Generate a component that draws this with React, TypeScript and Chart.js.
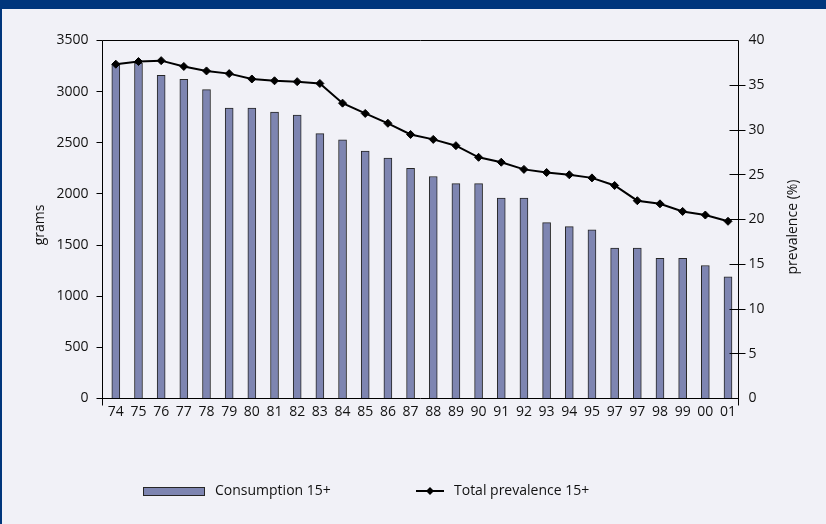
import { useEffect, useRef } from "react";
import { Chart, registerables } from "chart.js";

Chart.register(...registerables);

// Years on the category axis (two-digit labels, as printed)
const years = [
  "74", "75", "76", "77", "78", "79", "80", "81", "82", "83",
  "84", "85", "86", "87", "88", "89", "90", "91", "92", "93",
  "94", "95", "97", "97", "98", "99", "00", "01",
];

// Tobacco consumption per adult aged 15+, grams
const consumption = [
  3270, 3280, 3160, 3120, 3020, 2840, 2840, 2800, 2770, 2590,
  2530, 2420, 2350, 2250, 2170, 2100, 2100, 1960, 1960, 1720,
  1680, 1650, 1470, 1470, 1370, 1370, 1300, 1190,
];

// Total smoking prevalence among adults aged 15+, %
const prevalence = [
  37.35, 37.65, 37.75, 37.1, 36.6, 36.3, 35.7, 35.5, 35.4, 35.2,
  33.0, 31.85, 30.75, 29.5, 28.95, 28.25, 26.95, 26.4, 25.6, 25.25,
  25.0, 24.65, 23.8, 22.1, 21.75, 20.9, 20.5, 19.8,
];

const gramTicks = [0, 500, 1000, 1500, 2000, 2500, 3000, 3500];
const prevalenceTicks = [0, 5, 10, 15, 20, 25, 30, 35, 40];

const FONT_FAMILY = "'Open Sans', 'DejaVu Sans', sans-serif";
const FONT_SIZE = 14;
const TEXT_COLOR = "#111111";
const BAR_FILL = "#7e85b1";
const BAR_EDGE = "#262626";
const PANEL_BG = "#f1f1f7";
const FRAME_BLUE = "#00367c";

const crisp = (v: number) => Math.round(v - 0.5) + 0.5;

// Frame, axis lines, tick marks, axis titles and the legend row
const framePlugin = {
  id: "frame",
  afterDatasetsDraw(chart: any) {
    const { ctx, chartArea, scales } = chart;
    const { left, right, top, bottom } = chartArea;
    const y = scales.y;
    const y1 = scales.y1;
    ctx.save();
    ctx.strokeStyle = "#000";
    ctx.lineWidth = 1;
    ctx.beginPath();
    ctx.moveTo(left, top);
    ctx.lineTo(right, top);
    ctx.moveTo(left, bottom);
    ctx.lineTo(right, bottom);
    ctx.moveTo(left, top);
    ctx.lineTo(left, bottom + 7);
    ctx.moveTo(right, top);
    ctx.lineTo(right, bottom + 7);
    y.ticks.forEach((t: any) => {
      const py = crisp(y.getPixelForValue(t.value));
      ctx.moveTo(left - 6, py);
      ctx.lineTo(left, py);
    });
    y1.ticks.forEach((t: any) => {
      if (t.value <= y1.min || t.value >= y1.max) return;
      const py = crisp(y1.getPixelForValue(t.value));
      ctx.moveTo(right - 9, py);
      ctx.lineTo(right + 7, py);
    });
    ctx.stroke();
    ctx.restore();
  },
  afterDraw(chart: any) {
    const { ctx } = chart;
    ctx.save();
    ctx.fillStyle = TEXT_COLOR;
    ctx.font = `${FONT_SIZE}px ${FONT_FAMILY}`;
    ctx.textAlign = "center";
    ctx.textBaseline = "middle";

    ctx.save();
    ctx.translate(40, 225);
    ctx.rotate(-Math.PI / 2);
    ctx.fillText("grams", 0, 0);
    ctx.restore();

    ctx.save();
    ctx.translate(793, 227);
    ctx.rotate(-Math.PI / 2);
    ctx.fillText("prevalence (%)", 0, 0);
    ctx.restore();

    // legend: bar swatch
    const barSet = chart.data.datasets[1];
    const lineSet = chart.data.datasets[0];
    ctx.fillStyle = BAR_FILL;
    ctx.fillRect(143.5, 487.5, 61, 8);
    ctx.strokeStyle = BAR_EDGE;
    ctx.lineWidth = 1;
    ctx.strokeRect(143.5, 487.5, 61, 8);
    ctx.fillStyle = TEXT_COLOR;
    ctx.textAlign = "left";
    ctx.fillText(barSet.label, 215, 491);

    // legend: line swatch with diamond marker
    ctx.strokeStyle = "#000";
    ctx.lineWidth = 2;
    ctx.beginPath();
    ctx.moveTo(416, 491);
    ctx.lineTo(444, 491);
    ctx.stroke();
    ctx.fillStyle = "#000";
    ctx.beginPath();
    ctx.moveTo(430, 487);
    ctx.lineTo(434, 491);
    ctx.lineTo(430, 495);
    ctx.lineTo(426, 491);
    ctx.closePath();
    ctx.fill();
    ctx.fillStyle = TEXT_COLOR;
    ctx.fillText(lineSet.label, 454, 491);
    ctx.restore();
  },
};

export default function App() {
  const canvasRef = useRef<HTMLCanvasElement | null>(null);

  useEffect(() => {
    const canvas = canvasRef.current;
    if (!canvas) return;
    const tickFont = { family: FONT_FAMILY, size: FONT_SIZE };

    const chart = new Chart(canvas, {
      type: "bar",
      data: {
        datasets: [
          {
            type: "line",
            label: "Total prevalence 15+",
            data: prevalence.map((v, i) => ({ x: i, y: v })),
            yAxisID: "y1",
            borderColor: "#000",
            borderWidth: 2,
            pointStyle: "rectRot",
            pointRadius: 4,
            pointBackgroundColor: "#000",
            pointBorderColor: "#000",
            pointBorderWidth: 1,
            tension: 0,
            order: 0,
          },
          {
            type: "bar",
            label: "Consumption 15+",
            data: consumption.map((v, i) => ({ x: i, y: v })),
            yAxisID: "y",
            backgroundColor: BAR_FILL,
            borderColor: BAR_EDGE,
            borderWidth: 1,
            barThickness: 8,
            order: 1,
          },
        ],
      } as any,
      options: {
        responsive: false,
        animation: false,
        devicePixelRatio: 1,
        layout: { padding: { top: 40.5, bottom: 95.5, left: 0, right: 0 } },
        plugins: {
          legend: { display: false },
          tooltip: { enabled: false },
          title: { display: false },
        },
        scales: {
          x: {
            type: "linear",
            offset: false,
            min: -0.587,
            max: 27.463,
            afterBuildTicks: (s: any) => {
              s.ticks = years.map((_, i) => ({ value: i }));
            },
            afterFit: (s: any) => {
              s.height = 30;
            },
            grid: { display: false, drawTicks: false },
            border: { display: false },
            ticks: {
              callback: (v: any) => years[v as number] ?? "",
              font: tickFont,
              color: TEXT_COLOR,
              padding: 5,
              autoSkip: false,
              maxRotation: 0,
              minRotation: 0,
            },
          },
          y: {
            position: "left",
            min: 0,
            max: 3500,
            afterBuildTicks: (s: any) => {
              s.ticks = gramTicks.map((v) => ({ value: v }));
            },
            afterFit: (s: any) => {
              s.width = 102.5;
            },
            grid: { display: false, drawTicks: false },
            border: { display: false },
            ticks: {
              callback: (v: any) => String(v),
              font: tickFont,
              color: TEXT_COLOR,
              padding: 14,
            },
          },
          y1: {
            position: "right",
            min: 0,
            max: 40,
            afterBuildTicks: (s: any) => {
              s.ticks = prevalenceTicks.map((v) => ({ value: v }));
            },
            afterFit: (s: any) => {
              s.width = 87.5;
            },
            grid: { display: false, drawTicks: false },
            border: { display: false },
            ticks: {
              callback: (v: any) => String(v),
              font: tickFont,
              color: TEXT_COLOR,
              padding: 10,
            },
          },
        },
      } as any,
      plugins: [framePlugin],
    });

    return () => chart.destroy();
  }, []);

  return (
    <div
      style={{
        position: "fixed",
        left: 0,
        top: 0,
        width: 826,
        height: 524,
        background: PANEL_BG,
        overflow: "hidden",
      }}
    >
      <div style={{ position: "absolute", left: 0, top: 0, width: 826, height: 9, background: FRAME_BLUE }} />
      <div style={{ position: "absolute", left: 0, top: 0, width: 2, height: 524, background: FRAME_BLUE }} />
      <canvas
        ref={canvasRef}
        width={826}
        height={524}
        style={{ position: "absolute", left: 0, top: 0, width: 826, height: 524 }}
      />
    </div>
  );
}
